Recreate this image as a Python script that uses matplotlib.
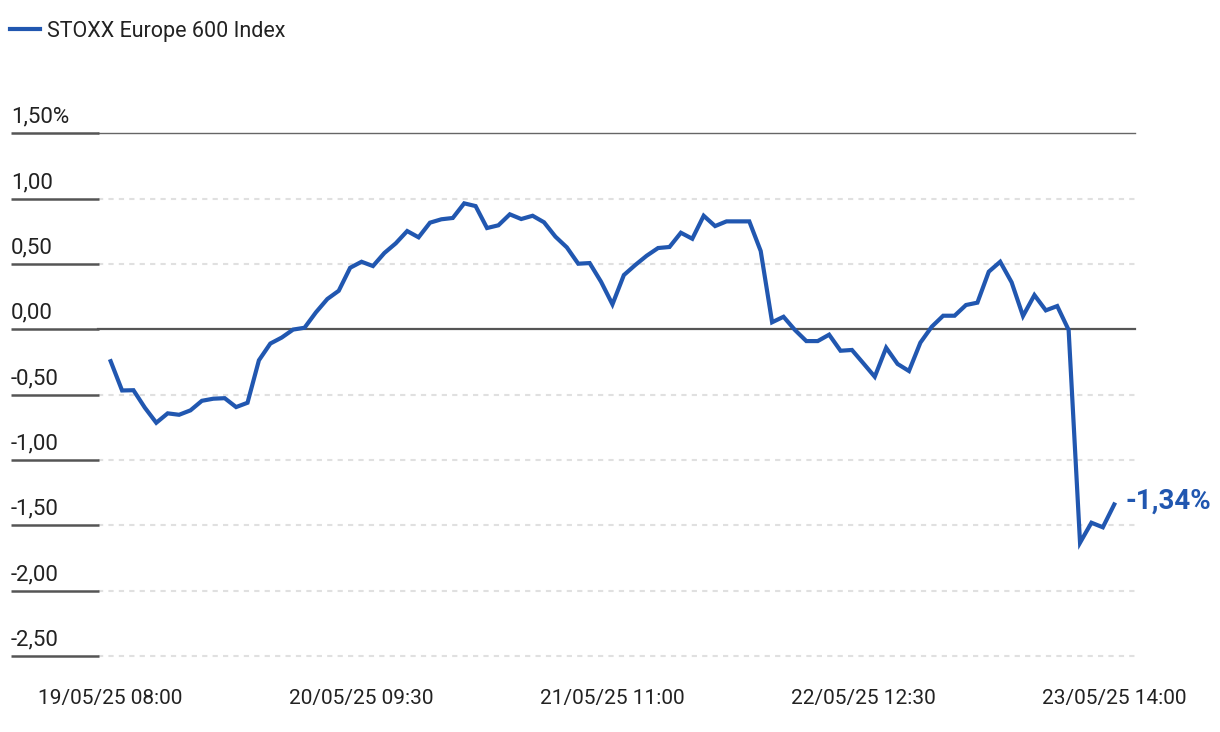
import numpy as np
import matplotlib.pyplot as plt
from matplotlib.lines import Line2D
import matplotlib.transforms as mtransforms

plt.rcParams['font.family'] = ['Roboto', 'DejaVu Sans']

# STOXX Europe 600, performance in % (half-hourly points, 08:00-17:00)
values = [-0.244, -0.468, -0.466, -0.600, -0.715, -0.643, -0.654, -0.620, -0.547, -0.531,
          -0.527, -0.595, -0.562, -0.237, -0.109, -0.063, -0.002, 0.012, 0.130, 0.232,
          0.295, 0.471, 0.517, 0.484, 0.584, 0.658, 0.752, 0.704, 0.816, 0.842,
          0.852, 0.964, 0.943, 0.775, 0.796, 0.880, 0.844, 0.869, 0.819, 0.709,
          0.627, 0.502, 0.507, 0.364, 0.191, 0.415, 0.492, 0.563, 0.622, 0.630,
          0.739, 0.693, 0.869, 0.790, 0.826, 0.826, 0.826, 0.599, 0.054, 0.096,
          -0.005, -0.090, -0.090, -0.041, -0.164, -0.158, -0.260, -0.363, -0.141, -0.265,
          -0.319, -0.102, 0.020, 0.104, 0.104, 0.186, 0.204, 0.441, 0.517, 0.360,
          0.102, 0.262, 0.145, 0.178, -0.005, -1.633, -1.480, -1.515, -1.340]
series_name = "STOXX Europe 600 Index"
last_label = "-1,34%"

xtick_pos = [0, 22, 44, 66, 88]
xtick_labels = ["19/05/25 08:00", "20/05/25 09:30", "21/05/25 11:00",
                "22/05/25 12:30", "23/05/25 14:00"]
ytick_vals = [1.5, 1.0, 0.5, 0.0, -0.5, -1.0, -1.5, -2.0, -2.5]
ytick_labels = ["1,50%", "1,00", "0,50", "0,00", "-0,50", "-1,00", "-1,50", "-2,00", "-2,50"]

blue = "#2157b0"
dark = "#555555"
txt = "#222222"

fig = plt.figure(figsize=(12.2, 7.32), dpi=100)
ax = fig.add_axes([98 / 1220, 0.1038, 1037 / 1220, 0.7141])
x = np.arange(len(values))

ax.set_xlim(-1.11, 89.82)
ax.set_ylim(-2.5, 1.5)

trans = mtransforms.blended_transform_factory(ax.transAxes, ax.transData)
seg0 = (11 - 98) / 1037
for v, lbl in zip(ytick_vals, ytick_labels):
    if v == 0:
        ax.axhline(v, color=dark, lw=1.6, zorder=2, clip_on=False)
    elif v == 1.5:
        ax.axhline(v, color="#666666", lw=1.0, zorder=1, clip_on=False)
    else:
        ax.axhline(v, color="#e0e0e0", lw=1.5, ls=(0, (2.5, 2.5)), zorder=1, clip_on=False)
    ax.plot([seg0, 0.001], [v, v], transform=trans, color=dark, lw=1.8,
            clip_on=False, solid_capstyle='butt')
    ax.annotate(lbl, xy=(seg0, v), xycoords=trans, xytext=(0, 7.5), textcoords='offset points',
                ha='left', va='baseline', fontsize=16, color=txt, annotation_clip=False)

ax.plot(x, values, color=blue, lw=3, zorder=3, solid_joinstyle='miter')
ax.annotate(last_label, xy=(x[-1], values[-1]), xytext=(8, 2), textcoords='offset points',
            ha='left', va='center', fontsize=20, fontweight='bold', color=blue,
            annotation_clip=False)

ax.set_xticks(xtick_pos, xtick_labels)
ax.tick_params(axis='x', length=0, pad=24, labelsize=15, labelcolor=txt)
ax.set_yticks([])
for s in ax.spines.values():
    s.set_visible(False)

handle = Line2D([], [], color=blue, lw=3)
fig.legend([handle], [series_name], loc='center left', bbox_to_anchor=(10 / 1220, 1 - 31 / 732),
           frameon=False, fontsize=15.5, handlelength=1.4, handletextpad=0.3,
           borderpad=0, borderaxespad=0, labelcolor=txt)

fig.savefig("out.png", dpi=100)
